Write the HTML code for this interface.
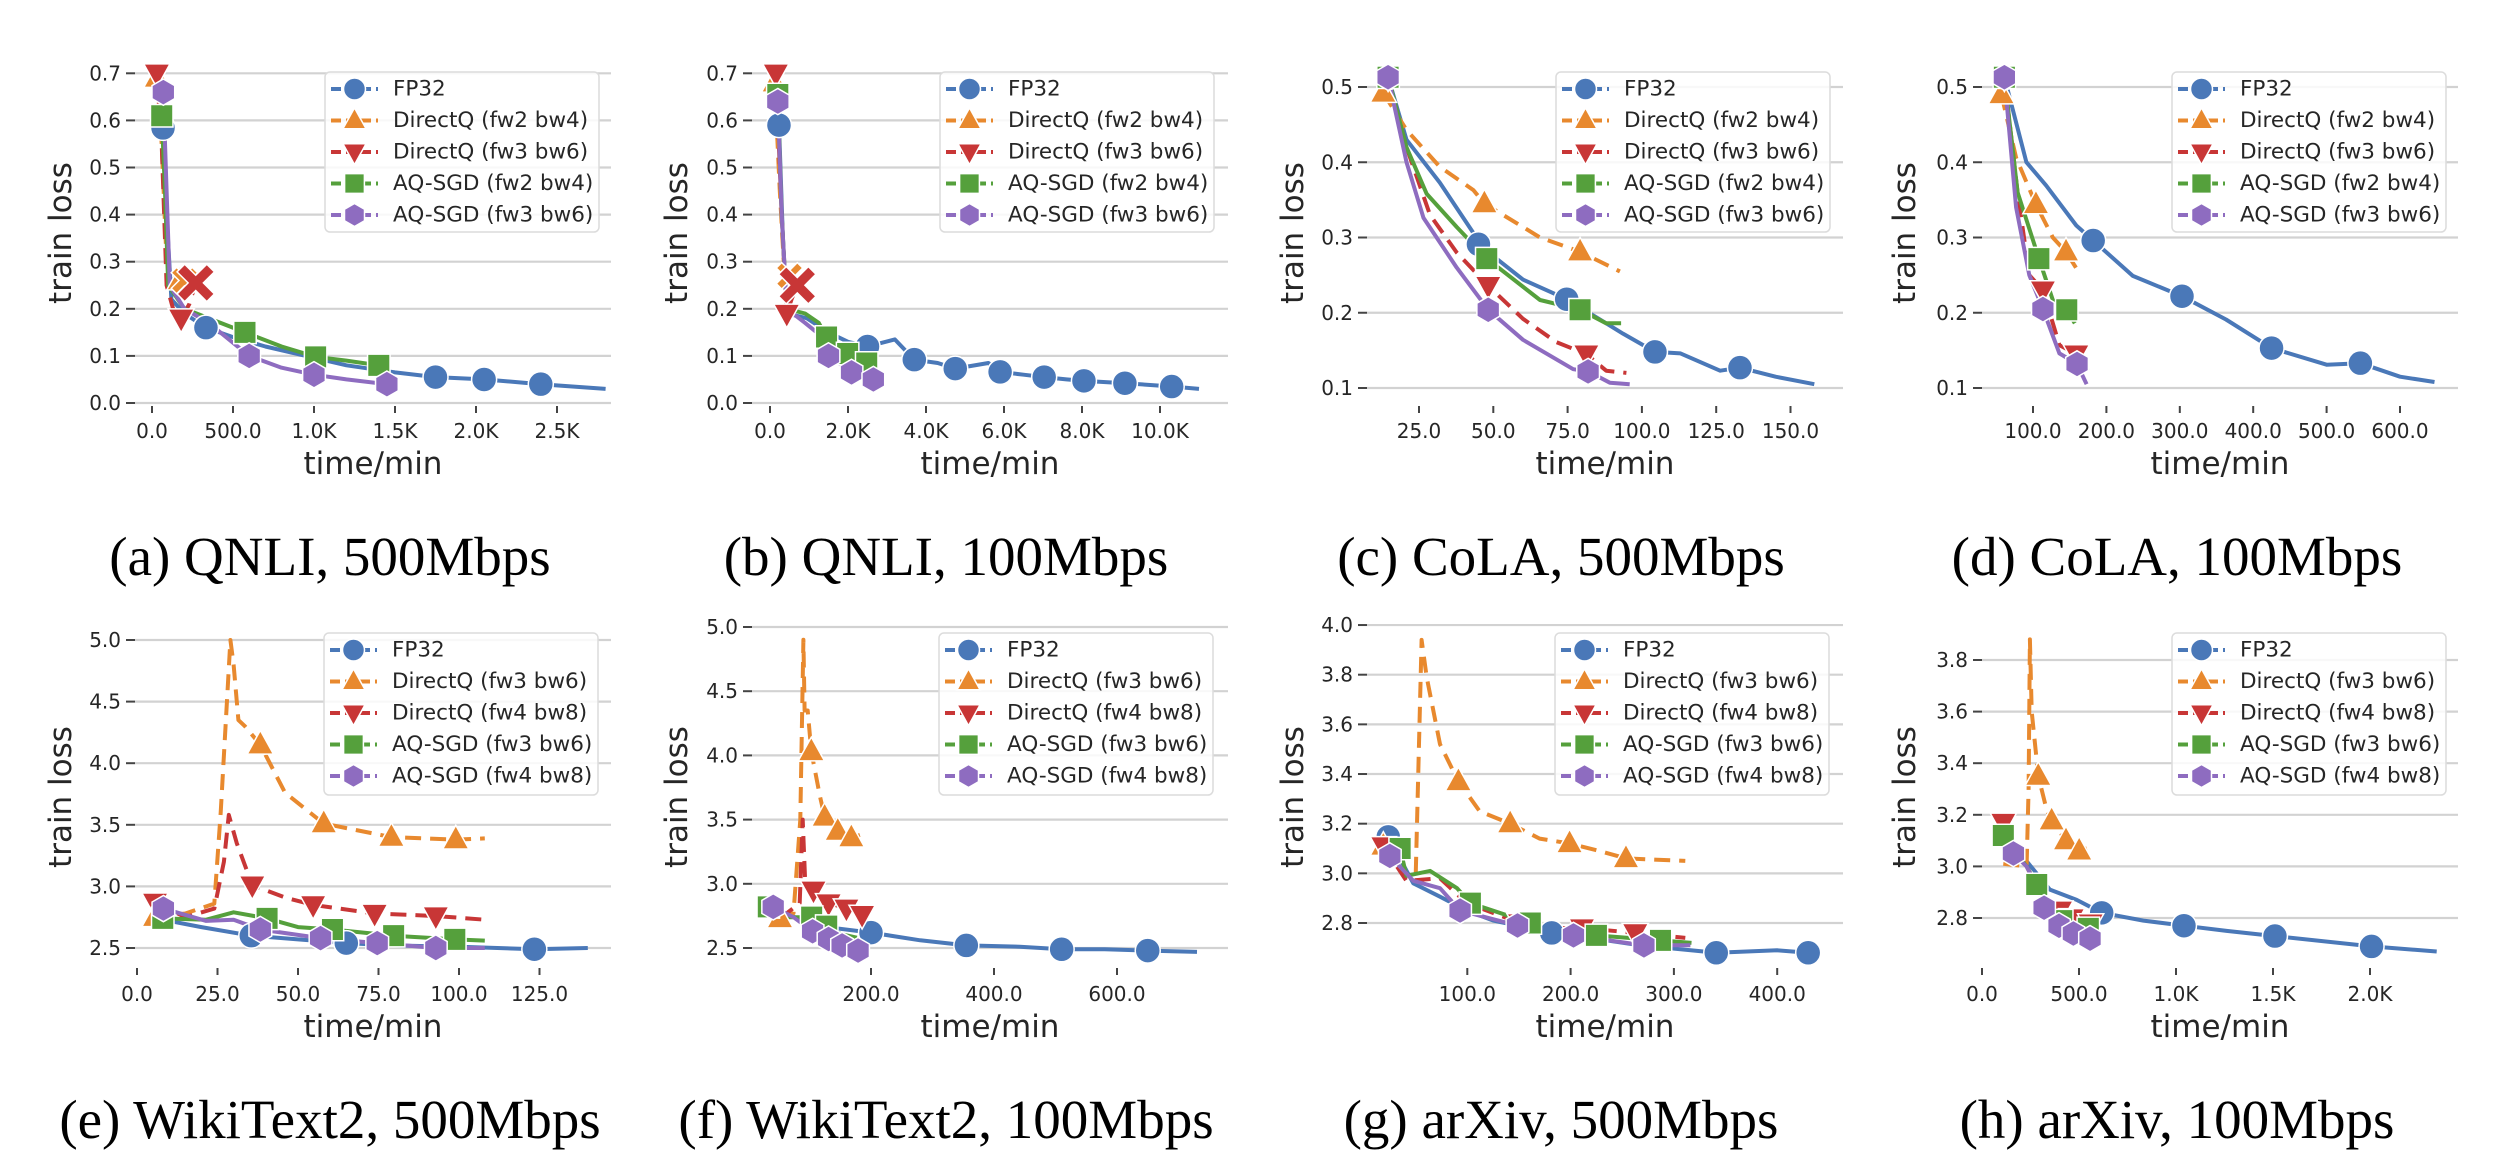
<!DOCTYPE html>
<html>
<head>
<meta charset="utf-8">
<style>
html,body{margin:0;padding:0;background:#fff;}
svg{display:block;}
text{font-family:"DejaVu Sans","Liberation Sans",sans-serif;fill:#262626;}
.cap{font-family:"Liberation Serif","DejaVu Serif",serif;fill:#000;}
</style>
</head>
<body>
<svg id="fig" xmlns="http://www.w3.org/2000/svg" width="2500" height="1175" viewBox="0 0 2500 1175"></svg>
<script>
// ---------- DATA (series order: FP32, DirectQ-1, DirectQ-2, AQ-SGD-1, AQ-SGD-2) ----------
const aTimes = [[68,90,120,200,333,500,700,950,1200,1500,1750,2050,2400,2800],[30,60,90,130,172,200],[30,60,90,130,180,230,270],[60,80,100,200,350,574,800,1010,1200,1400,1450],[70,90,110,200,350,600,800,1000,1200,1450]];
const aLoss  = [[0.584,0.40,0.22,0.19,0.16,0.14,0.12,0.10,0.08,0.065,0.055,0.05,0.04,0.03],[0.69,0.55,0.30,0.27,0.26,0.26],[0.70,0.55,0.25,0.20,0.18,0.21,0.255],[0.61,0.45,0.25,0.20,0.18,0.15,0.12,0.098,0.09,0.08,0.078],[0.66,0.45,0.25,0.20,0.17,0.10,0.075,0.06,0.05,0.04]];
const aMarks = [[0,4,10,11,12],[0,4],[0,4],[0,5,7,9],[0,5,7,9]];
const aDivT = [200,270]; const aDivY = [0.26,0.255]; const aDivS = [1,2];

const bTimes = [[230,330,430,940,1500,2000,2500,3200,3700,4300,4750,5600,5900,6500,7030,7600,8050,9100,10300,11000],[120,250,380,500],[150,300,430,550,700],[200,300,430,900,1250,1450,1990,2480,2700],[200,300,430,900,1200,1500,2090,2650,2880]];
const bLoss  = [[0.59,0.35,0.19,0.18,0.15,0.13,0.12,0.135,0.092,0.085,0.073,0.085,0.066,0.06,0.055,0.05,0.047,0.042,0.035,0.03],[0.68,0.45,0.26,0.27],[0.70,0.40,0.19,0.22,0.25],[0.655,0.40,0.20,0.19,0.17,0.14,0.105,0.085,0.07],[0.64,0.40,0.20,0.17,0.15,0.10,0.065,0.05,0.035]];
const bMarks = [[0,6,8,10,12,14,16,17,18],[0],[0,2],[0,5,6,7],[0,5,6,7]];
const bDivT = [500,700]; const bDivY = [0.27,0.25]; const bDivS = [1,2];

const cTimes = [[14.6,20.8,32,43.3,45,60,74.7,88,93.7,104.4,113,126.3,133,145,158],[13,20.8,32,43.3,47,60,65.7,79.2,92.6],[14.6,20.8,28.7,37.7,48.3,60,71.2,81.3,88,94.8],[14.6,20.8,27.6,37.7,47.8,65.7,79.2,88,93],[14.6,20.8,26.5,37.7,48.3,60,76.9,81.9,89.2,95.9]];
const cLoss  = [[0.513,0.43,0.373,0.306,0.291,0.244,0.218,0.186,0.172,0.148,0.146,0.123,0.127,0.115,0.105],[0.492,0.443,0.394,0.363,0.345,0.314,0.30,0.281,0.255],[0.513,0.42,0.33,0.28,0.236,0.192,0.161,0.145,0.123,0.12],[0.513,0.42,0.358,0.314,0.272,0.217,0.204,0.186,0.186],[0.513,0.40,0.326,0.26,0.204,0.164,0.125,0.122,0.107,0.105]];
const cMarks = [[0,4,6,9,12],[0,4,7],[0,4,7],[0,4,6],[0,4,7]];

const dTimes = [[61,91,118,159,182,236,303,363,425,500,546,600,647],[57,77,104,127,145,161],[61,79,95,113.5,136,159,177],[61,79,108,127,146,157],[61,77,95,113.5,136,160,173]];
const dLoss  = [[0.513,0.40,0.369,0.316,0.296,0.249,0.222,0.191,0.153,0.131,0.133,0.115,0.108],[0.49,0.406,0.344,0.30,0.281,0.256],[0.513,0.36,0.25,0.23,0.157,0.145,0.12],[0.513,0.36,0.272,0.217,0.204,0.186],[0.513,0.34,0.25,0.205,0.146,0.132,0.105]];
const dMarks = [[0,4,6,8,10],[0,2,4],[0,3,5],[0,2,4],[0,3,5]];

const eTimes = [[8,20,35.5,50,65,80,100,123.4,140],[5.6,15,24,26,29,30,31.5,33.5,38.3,46,58,79,99,108],[5.6,15,24,27,28.5,31,35.8,46,54.7,73.8,92.8,108],[8,21.5,30,40.4,50,60.7,79.7,98.7,108],[8.2,21.5,30,38.3,57,74.6,92.8,108]];
const eLoss  = [[2.73,2.67,2.60,2.57,2.54,2.52,2.51,2.49,2.50],[2.75,2.78,2.86,3.6,5.0,4.8,4.35,4.3,4.15,3.76,3.51,3.40,3.38,3.39],[2.87,2.75,2.82,3.2,3.58,3.35,3.01,2.91,2.85,2.78,2.76,2.73],[2.74,2.73,2.79,2.74,2.67,2.65,2.60,2.57,2.56],[2.82,2.72,2.73,2.65,2.58,2.54,2.50,2.50]];
const eMarks = [[2,4,7],[0,8,10,11,12],[0,6,8,9,10],[0,3,5,6,7],[0,3,4,5,6]];

const fTimes = [[30,116,200,280,355,442,510,580,650,730],[52,74,85,90,92,97,103,117,124.7,146,168,182],[52,84,89,92.7,106.5,131,160,185.5],[33,63,103.5,128,150,177],[41,74,105,131,153,179,194]];
const fLoss  = [[2.82,2.67,2.62,2.56,2.52,2.51,2.49,2.49,2.48,2.47],[2.73,2.77,3.5,4.9,4.35,4.35,4.03,3.68,3.52,3.41,3.36,3.38],[2.73,2.85,3.5,3.05,2.95,2.85,2.81,2.76],[2.82,2.74,2.74,2.67,2.61,2.58],[2.82,2.74,2.63,2.57,2.52,2.48,2.51]];
const fMarks = [[2,4,6,8],[0,6,8,9,10],[4,5,6,7],[0,2,3],[0,2,3,4,5]];

const gTimes = [[23.5,47.7,73.6,99.4,125,181.7,235,267,341,400,430],[18.7,41,50,55.8,60.7,73.6,91.4,112,141.5,170,199,228,253.6,311],[18.7,41,73.6,99.4,151,185,211,262.6,311],[35,41,64,90,103,161,187,225,287,317],[25,47.7,73.6,93,148.6,202.8,271,316]];
const gLoss  = [[3.147,2.96,2.906,2.85,2.81,2.76,2.73,2.71,2.68,2.69,2.68],[3.11,2.99,2.99,3.94,3.79,3.52,3.37,3.25,3.2,3.14,3.12,3.09,3.06,3.05],[3.11,2.97,2.98,2.88,2.80,2.78,2.78,2.76,2.74],[3.10,2.99,3.01,2.94,2.88,2.80,2.76,2.75,2.73,2.72],[3.07,2.97,2.94,2.85,2.79,2.75,2.71,2.71]];
const gMarks = [[0,5,8,10],[0,6,8,10,12],[0,4,6,7],[0,4,5,7,8],[0,3,4,5,6]];

const hTimes = [[144,230,350,488,617,832,1041,1261,1510,2008,2344],[110,230,240,247,256,290,333,359,433,501,540],[110,230,316,402,462,560],[110,230,282,325,411,488,548],[162,230,299,320,397,471,557]];
const hLoss  = [[3.115,3.02,2.91,2.87,2.82,2.79,2.77,2.75,2.73,2.69,2.67],[3.01,3.0,3.3,3.88,3.6,3.35,3.22,3.177,3.1,3.06,3.07],[3.17,3.0,2.87,2.83,2.80,2.78],[3.12,3.0,2.93,2.84,2.79,2.77,2.76],[3.05,3.0,2.9,2.84,2.77,2.74,2.72]];
const hMarks = [[4,6,8,9],[5,7,8,9],[0,3,4,5],[0,2,4,6],[0,3,4,5,6]];

// ---------- TICKS ----------
const aXTicks = [0,500,1000,1500,2000,2500]; const aXLabels = ['0.0','500.0','1.0K','1.5K','2.0K','2.5K'];
const bXTicks = [0,2000,4000,6000,8000,10000]; const bXLabels = ['0.0','2.0K','4.0K','6.0K','8.0K','10.0K'];
const cXTicks = [25,50,75,100,125,150]; const cXLabels = ['25.0','50.0','75.0','100.0','125.0','150.0'];
const dXTicks = [100,200,300,400,500,600]; const dXLabels = ['100.0','200.0','300.0','400.0','500.0','600.0'];
const eXTicks = [0,25,50,75,100,125]; const eXLabels = ['0.0','25.0','50.0','75.0','100.0','125.0'];
const fXTicks = [200,400,600]; const fXLabels = ['200.0','400.0','600.0'];
const gXTicks = [100,200,300,400]; const gXLabels = ['100.0','200.0','300.0','400.0'];
const hXTicks = [0,500,1000,1500,2000]; const hXLabels = ['0.0','500.0','1.0K','1.5K','2.0K'];
const abYTicks = [0,0.1,0.2,0.3,0.4,0.5,0.6,0.7]; const abYLabels = ['0.0','0.1','0.2','0.3','0.4','0.5','0.6','0.7'];
const cdYTicks = [0.1,0.2,0.3,0.4,0.5]; const cdYLabels = ['0.1','0.2','0.3','0.4','0.5'];
const efYTicks = [2.5,3.0,3.5,4.0,4.5,5.0]; const efYLabels = ['2.5','3.0','3.5','4.0','4.5','5.0'];
const gYTicks = [2.8,3.0,3.2,3.4,3.6,3.8,4.0]; const gYLabels = ['2.8','3.0','3.2','3.4','3.6','3.8','4.0'];
const hYTicks = [2.8,3.0,3.2,3.4,3.6,3.8]; const hYLabels = ['2.8','3.0','3.2','3.4','3.6','3.8'];
const legendRow1 = ['FP32','DirectQ (fw2 bw4)','DirectQ (fw3 bw6)','AQ-SGD (fw2 bw4)','AQ-SGD (fw3 bw6)'];
const legendRow2 = ['FP32','DirectQ (fw3 bw6)','DirectQ (fw4 bw8)','AQ-SGD (fw3 bw6)','AQ-SGD (fw4 bw8)'];
const captions = ['(a) QNLI, 500Mbps','(b) QNLI, 100Mbps','(c) CoLA, 500Mbps','(d) CoLA, 100Mbps','(e) WikiText2, 500Mbps','(f) WikiText2, 100Mbps','(g) arXiv, 500Mbps','(h) arXiv, 100Mbps'];

// ---------- STYLE ----------
const COLORS = ['#4a78b8','#e8892e','#c83636','#55a03c','#8e6cc0'];
const SHAPES = ['circle','tri-up','tri-down','square','hexagon'];
const DASH = [null,'16,9','16,9',null,null];
const SERIES_NAMES = ['fp32','directq-low','directq-high','aqsgd-low','aqsgd-high'];

const svg = document.getElementById('fig');
const NS = 'http://www.w3.org/2000/svg';
function mk(tag, attrs, parent){
  const el = document.createElementNS(NS, tag);
  for (const k in attrs) el.setAttribute(k, attrs[k]);
  (parent||svg).appendChild(el);
  return el;
}
function markerPath(shape, x, y, s){
  if (shape==='circle') return null;
  if (shape==='tri-up') return `M${x},${y-s*1.15}L${x+s*1.05},${y+s*0.75}L${x-s*1.05},${y+s*0.75}Z`;
  if (shape==='tri-down') return `M${x},${y+s*1.15}L${x+s*1.05},${y-s*0.75}L${x-s*1.05},${y-s*0.75}Z`;
  if (shape==='square') return `M${x-s*0.9},${y-s*0.9}h${s*1.8}v${s*1.8}h${-s*1.8}Z`;
  if (shape==='hexagon'){ let d=''; for(let i=0;i<6;i++){const a=Math.PI/3*i-Math.PI/2; d+=(i?'L':'M')+(x+s*1.05*Math.cos(a))+','+(y+s*1.05*Math.sin(a));} return d+'Z'; }
  if (shape==='x'){ const w=s*0.45, L=s*1.1;
    return `M${x-L},${y-L+w}L${x-L+w},${y-L}L${x},${y-w}L${x+L-w},${y-L}L${x+L},${y-L+w}L${x+w},${y}L${x+L},${y+L-w}L${x+L-w},${y+L}L${x},${y+w}L${x-L+w},${y+L}L${x-L},${y+L-w}L${x-w},${y}Z`; }
}
function drawMarker(g, shape, x, y, s, color){
  let el;
  if (shape==='circle') el = mk('circle',{cx:x,cy:y,r:s,fill:color,stroke:'#fff','stroke-width':1.5},g);
  else el = mk('path',{d:markerPath(shape,x,y,s),fill:color,stroke:'#fff','stroke-width':1.5},g);
  return el;
}

// ---------- PANELS (layout) ----------
const panels = [
 {id:'a',row:0,col:0,gx0:135,x0:152,xk:0.162,yv0:0,ypx:403,yk:471,times:aTimes,loss:aLoss,marks:aMarks,xt:aXTicks,xl:aXLabels,yt:abYTicks,yl:abYLabels,leg:325,divT:aDivT,divY:aDivY,divS:aDivS},
 {id:'b',row:0,col:1,gx0:752,x0:770,xk:0.039,yv0:0,ypx:403,yk:471,times:bTimes,loss:bLoss,marks:bMarks,xt:bXTicks,xl:bXLabels,yt:abYTicks,yl:abYLabels,leg:940,divT:bDivT,divY:bDivY,divS:bDivS},
 {id:'c',row:0,col:2,gx0:1367,x0:1344.7,xk:2.972,yv0:0.1,ypx:388,yk:752.5,times:cTimes,loss:cLoss,marks:cMarks,xt:cXTicks,xl:cXLabels,yt:cdYTicks,yl:cdYLabels,leg:1556},
 {id:'d',row:0,col:3,gx0:1982,x0:1959.6,xk:0.734,yv0:0.1,ypx:388,yk:752.5,times:dTimes,loss:dLoss,marks:dMarks,xt:dXTicks,xl:dXLabels,yt:cdYTicks,yl:cdYLabels,leg:2172},
 {id:'e',row:1,col:0,gx0:135,x0:137,xk:3.22,yv0:2.5,ypx:948,yk:123.2,times:eTimes,loss:eLoss,marks:eMarks,xt:eXTicks,xl:eXLabels,yt:efYTicks,yl:efYLabels,leg:324},
 {id:'f',row:1,col:1,gx0:752,x0:748,xk:0.615,yv0:2.5,ypx:948,yk:128.4,times:fTimes,loss:fLoss,marks:fMarks,xt:fXTicks,xl:fXLabels,yt:efYTicks,yl:efYLabels,leg:939},
 {id:'g',row:1,col:2,gx0:1367,x0:1364,xk:1.033,yv0:2.8,ypx:923,yk:248.3,times:gTimes,loss:gLoss,marks:gMarks,xt:gXTicks,xl:gXLabels,yt:gYTicks,yl:gYLabels,leg:1555},
 {id:'h',row:1,col:3,gx0:1982,x0:1982,xk:0.194,yv0:2.8,ypx:918,yk:258,times:hTimes,loss:hLoss,marks:hMarks,xt:hXTicks,xl:hXLabels,yt:hYTicks,yl:hYLabels,leg:2172}
];
const ROW = [
 {tickTop:406,tickLbl:438,xlab:474,ylabY:233,legTop:72,legH:160,capY:575},
 {tickTop:968,tickLbl:1001,xlab:1037,ylabY:797,legTop:633,legH:162,capY:1138}
];
const CAPX = [330,946,1561,2177];
const YLABX = [61,677,1293,1905];
const PW = 476;

panels.forEach((p, pi) => {
  const R = ROW[p.row];
  const sx = t => p.x0 + t*p.xk;
  const sy = v => p.ypx - (v - p.yv0)*p.yk;
  const gx1 = p.gx0 + PW;
  const g = mk('g',{});
  
  

  p.yt.forEach((v,i) => {
    const y = sy(v);
    const gl = mk('line',{x1:p.gx0,x2:gx1,y1:y,y2:y,stroke:'#d2d2d2','stroke-width':2.2},g);
    
    
    mk('line',{x1:p.gx0-9,x2:p.gx0,y1:y,y2:y,stroke:'#444','stroke-width':2},g);
    const tl = mk('text',{x:p.gx0-14,y:y,'font-size':20,'text-anchor':'end','dominant-baseline':'central'},g);
    tl.textContent = p.yl[i];
    
    
  });
  p.xt.forEach((t,i) => {
    const x = sx(t);
    mk('line',{x1:x,x2:x,y1:R.tickTop,y2:R.tickTop+7,stroke:'#444','stroke-width':2},g);
    const tl = mk('text',{x:x,y:R.tickLbl,'font-size':20,'text-anchor':'middle'},g);
    tl.textContent = p.xl[i];
    
    
  });
  const xlab = mk('text',{x:(p.gx0+gx1)/2,y:R.xlab,'font-size':31,'text-anchor':'middle'},g);
  xlab.textContent = 'time/min';
  
  
  const yx = YLABX[p.col];
  const ylab = mk('text',{x:yx,y:R.ylabY,'font-size':31,'text-anchor':'middle','dominant-baseline':'central',transform:`rotate(-90 ${yx} ${R.ylabY})`},g);
  ylab.textContent = 'train loss';
  
  

  for (let s=0; s<5; s++){
    const pts = p.times[s].map((t,i) => sx(t).toFixed(1)+','+sy(p.loss[s][i]).toFixed(1)).join(' ');
    const attrs = {points:pts,fill:'none',stroke:COLORS[s],'stroke-width':4,'stroke-linejoin':'round','stroke-linecap':'butt'};
    if (DASH[s]) attrs['stroke-dasharray'] = DASH[s];
    const ln = mk('polyline',attrs,g);
    
    
  }
  for (let s=0; s<5; s++){
    p.marks[s].forEach(i => {
      const m = drawMarker(g, SHAPES[s], sx(p.times[s][i]), sy(p.loss[s][i]), 12.5, COLORS[s]);
      
      
    });
  }
  if (p.divT){
    p.divT.forEach((t,i) => {
      const m = drawMarker(g, 'x', sx(t), sy(p.divY[i]), i===p.divT.length-1 ? 17 : 12, COLORS[p.divS[i]]);
      
      
    });
  }

  const lg = mk('g',{},g);
  
  
  mk('rect',{x:p.leg,y:R.legTop,width:274,height:R.legH,rx:5,fill:'#fff','fill-opacity':0.85,stroke:'#dcdcdc','stroke-width':1.5},lg);
  const labels = p.row===0 ? legendRow1 : legendRow2;
  for (let s=0; s<5; s++){
    const ey = R.legTop + 17 + s*31.5;
    const entry = mk('g',{},lg);
    
    
    mk('line',{x1:p.leg+6,x2:p.leg+53,y1:ey,y2:ey,stroke:COLORS[s],'stroke-width':4,'stroke-dasharray':'10,5'},entry);
    drawMarker(entry, SHAPES[s], p.leg+29.5, ey, 11, COLORS[s]);
    const tx = mk('text',{x:p.leg+68,y:ey,'font-size':21.5,'dominant-baseline':'central'},entry);
    tx.textContent = labels[s];
  }

  const cap = mk('text',{x:CAPX[p.col],y:R.capY,'font-size':55,'text-anchor':'middle',class:'cap'},g);
  cap.textContent = captions[pi];
  
  
});
</script>
</body>
</html>
